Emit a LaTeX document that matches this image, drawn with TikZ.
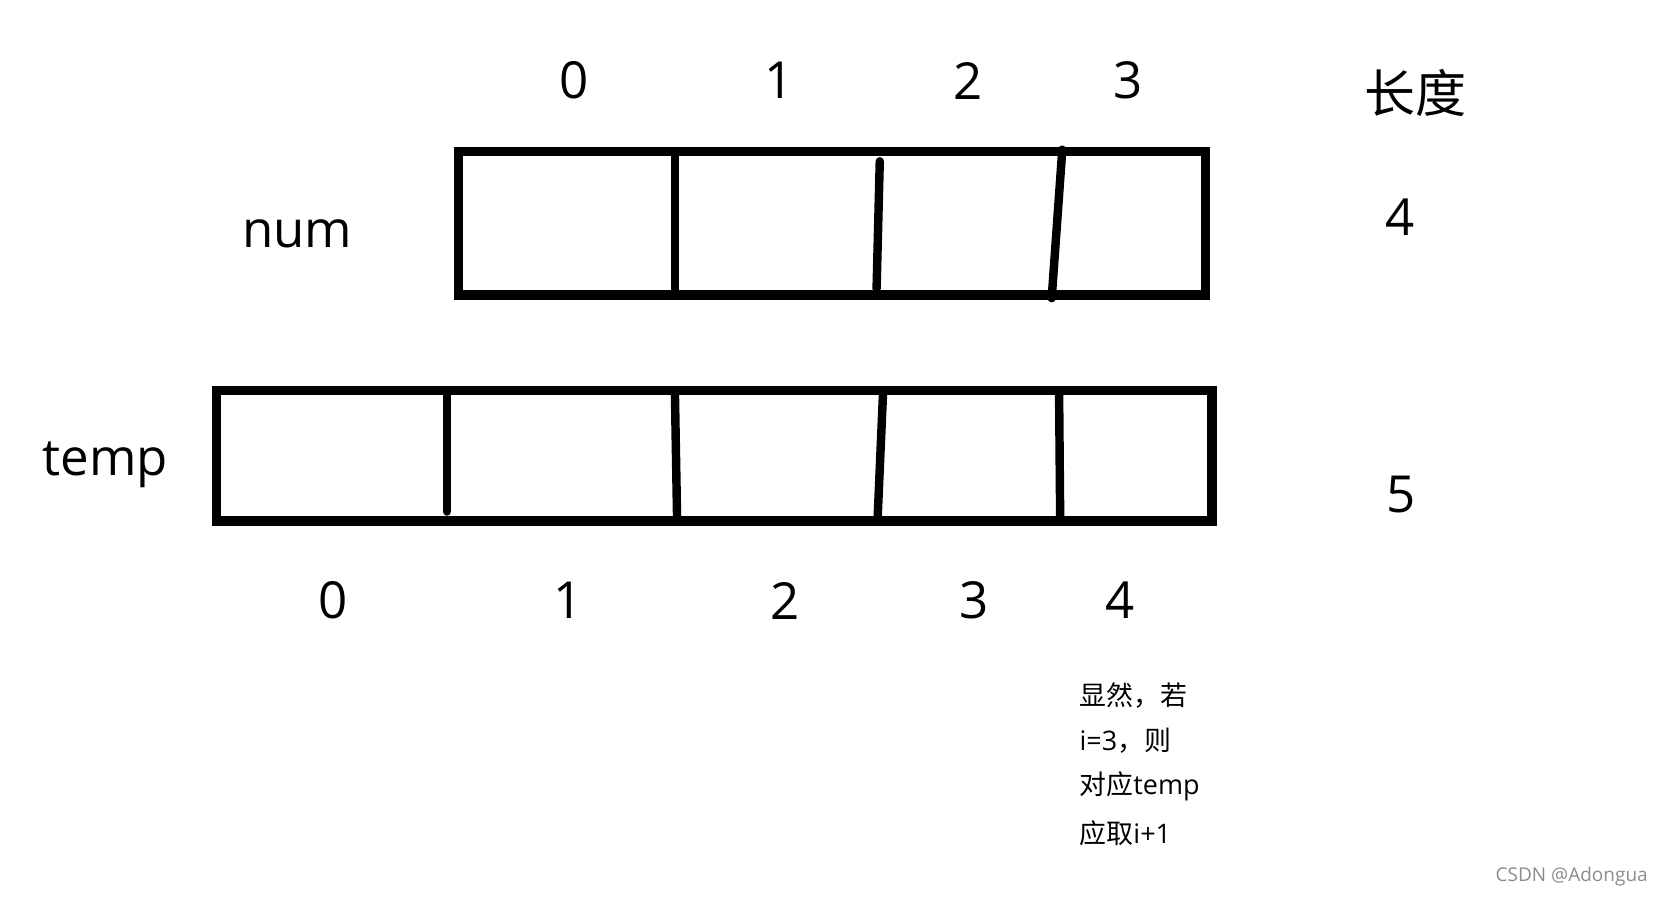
\documentclass[tikz,border=0pt]{standalone}
\usepackage{fontspec}
\setmainfont{Open Sans}
\newfontfamily\cjk{Noto Sans CJK SC}

\begin{document}
\begin{tikzpicture}[x=0.0212cm,y=-0.0212cm,
  big label/.style={font=\fontsize{29}{34}\selectfont,inner sep=0pt},
  note/.style={font=\fontsize{15.3}{19}\selectfont,inner sep=0pt,anchor=west},
  box line/.style={line width=5.3pt},
  cut line/.style={line width=4.8pt,line cap=round}]

 \useasboundingbox (0,0) rectangle (1568,846);

 % num array
 \draw[box line] (432,143) rectangle (1136,278);
 \draw[cut line] (636,147) -- (636,273);
 \draw[cut line] (829,152) -- (826,272);
 \draw[cut line] (1001,141) -- (991,281);

 % temp array
 \draw[box line] (204,368) rectangle (1142,491);
 \draw[cut line] (421,372) -- (421,482);
 \draw[cut line] (636,372) -- (638,488);
 \draw[cut line] (832,372) -- (827,488);
 \draw[cut line] (998,372) -- (999,488);

 \node[big label] (t0) at (541,76) {0};
 \node[big label] (t1) at (734,76) {1};
 \node[big label] (t2) at (912,76) {2};
 \node[big label] (t3) at (1063,76) {3};
 \node[big label] (len) at (1334,88) {\cjk 长度};

 \node[big label] (num) at (280,220) {num};
 \node[big label] (numlen) at (1319,205) {4};
 \node[big label] (temp) at (99,438) {temp};
 \node[big label] (templen) at (1320,466) {5};

 \node[big label] (b0) at (314,566) {0};
 \node[big label] (b1) at (535,566) {1};
 \node[big label] (b2) at (740,566) {2};
 \node[big label] (b3) at (918,566) {3};
 \node[big label] (b4) at (1055,566) {4};

 \node[note] (l1) at (1017,655) {\cjk 显然，若};
 \node[note] (l2) at (1017,698) {i=3{\cjk ，则}};
 \node[note] (l3) at (1017,741) {{\cjk 对应}temp};
 \node[note] (l4) at (1017,785) {{\cjk 应取}i+1};

 \node[font=\fontsize{10.8}{13}\selectfont,text=black!45,inner sep=0pt,anchor=east] (mark) at (1553,826) {CSDN @Adongua};

\end{tikzpicture}
\end{document}
